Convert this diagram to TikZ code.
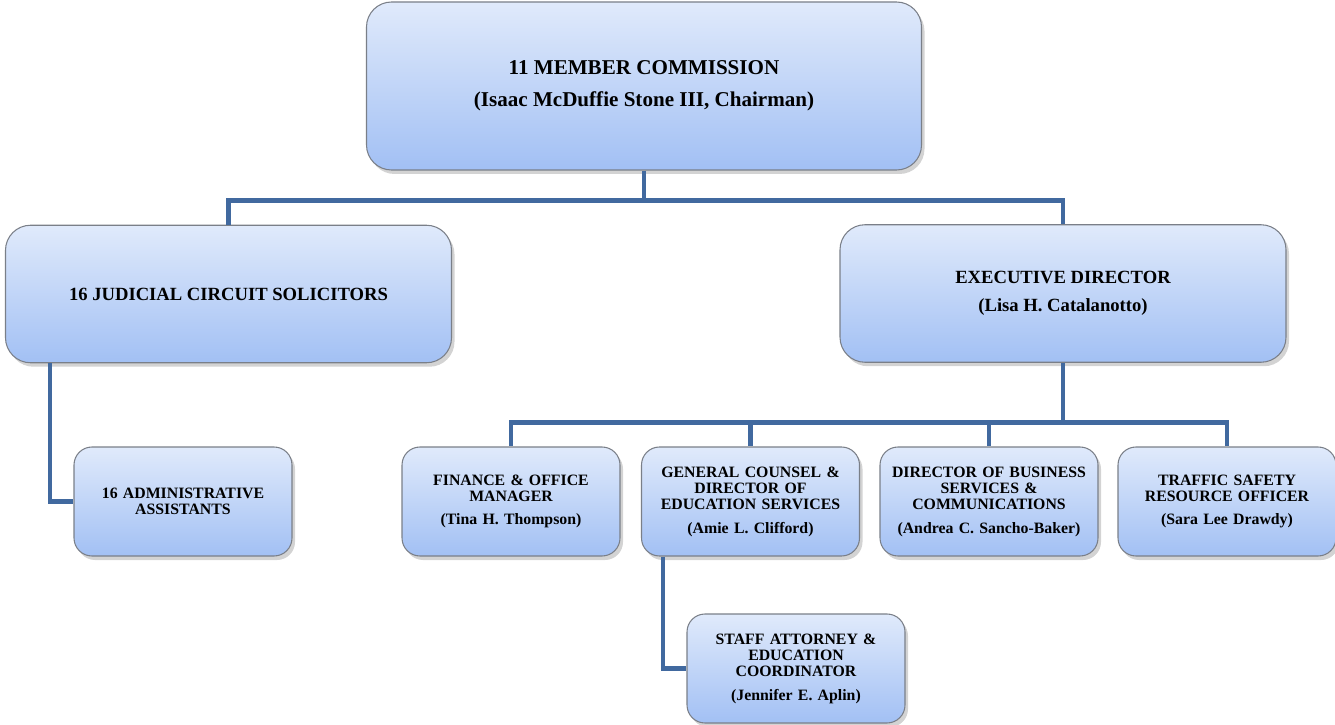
\documentclass[tikz,border=0pt]{standalone}
\usepackage{fontspec}
\setmainfont{Liberation Serif}
\usetikzlibrary{positioning,calc,shadows}
\definecolor{boxtop}{HTML}{E0EAFB}
\definecolor{boxbot}{HTML}{A2C0F4}
\definecolor{boxline}{HTML}{7A7F88}
\definecolor{link}{HTML}{41699F}

\begin{document}
\begin{tikzpicture}[
  font=\bfseries,
  box/.style={draw=boxline,line width=0.6pt,top color=boxtop,bottom color=boxbot,align=center,
    drop shadow={shadow xshift=0.06cm,shadow yshift=-0.08cm,opacity=0.35},inner sep=2pt},
  big/.style={box,rounded corners=0.5cm,minimum width=8.92cm,minimum height=2.75cm,font=\bfseries\fontsize{10.6}{12.5}\selectfont},
  small/.style={box,rounded corners=0.36cm,minimum width=4.36cm,minimum height=2.18cm,text width=4.2cm,font=\bfseries\fontsize{9}{9.3}\selectfont},
  link/.style={draw=link,line width=2.7pt}]
\useasboundingbox (0,0) rectangle (26.7,-14.5);
\node[big,minimum width=11.1cm,minimum height=3.36cm,font=\bfseries\fontsize{12}{13}\selectfont](comm) at (12.88,-1.72){11 MEMBER COMMISSION\\[5pt](Isaac McDuffie Stone III, Chairman)};
\node[big](sol) at (4.57,-5.88){16 JUDICIAL CIRCUIT SOLICITORS};
\node[big](exec) at (21.26,-5.87){EXECUTIVE DIRECTOR\\[3.5pt](Lisa H. Catalanotto)};
\node[small](adm) at (3.66,-10.03){16 ADMINISTRATIVE\\ASSISTANTS};
\node[small](fin) at (10.22,-10.03){FINANCE \& OFFICE\\MANAGER\\[4pt](Tina H. Thompson)};
\node[small](gc) at (15.01,-10.03){GENERAL COUNSEL \&\\DIRECTOR OF\\EDUCATION SERVICES\\[4pt](Amie L. Clifford)};
\node[small](bus) at (19.78,-10.03){DIRECTOR OF BUSINESS\\SERVICES \&\\COMMUNICATIONS\\[4pt](Andrea C. Sancho-Baker)};
\node[small](tso) at (24.54,-10.03){TRAFFIC SAFETY\\RESOURCE OFFICER\\[4pt](Sara Lee Drawdy)};
\node[small](staff) at (15.92,-13.37){STAFF ATTORNEY \&\\EDUCATION\\COORDINATOR\\[4pt](Jennifer E. Aplin)};
% connectors
\draw[link](comm.south)--++(0,-0.6)-|(sol.north);
\draw[link](comm.south)++(0,-0.6)-|(exec.north);
\draw[link](exec.south)--++(0,-1.2)-|(fin.north);
\draw[link](exec.south)++(0,-1.2)-|(gc.north);
\draw[link](exec.south)++(0,-1.2)-|(bus.north);
\draw[link](exec.south)++(0,-1.2)-|(tso.north);
\draw[link]($(sol.south west)+(0.9,0)$)|-(adm.west);
\draw[link]($(gc.south west)+(0.44,0)$)|-(staff.west);
\end{tikzpicture}
\end{document}
